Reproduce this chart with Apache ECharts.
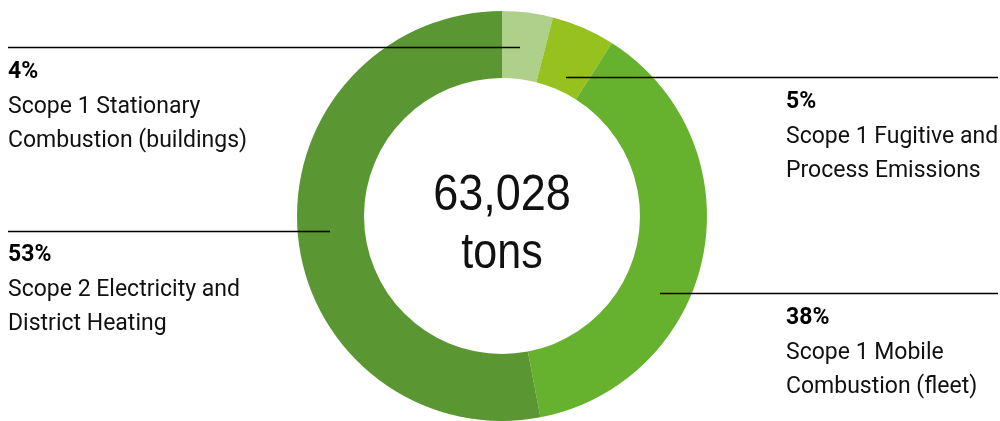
<!DOCTYPE html>
<html><head><meta charset="utf-8">
<script src="https://cdn.jsdelivr.net/npm/echarts@6/dist/echarts.min.js"></script>
<style>html,body{margin:0;padding:0;background:#fff}#c{width:1000px;height:421px}</style>
</head><body><div id="c"></div>
<script>
const categories = ['Scope 1 Stationary\nCombustion (buildings)', 'Scope 1 Fugitive and\nProcess Emissions', 'Scope 1 Mobile\nCombustion (fleet)', 'Scope 2 Electricity and\nDistrict Heating'];
const values = [4, 5, 38, 53];
const colors = ['#aed08b', '#96c11f', '#66b22e', '#5a9632'];
const totalLabel = '63,028';
const unitLabel = 'tons';

// annotation layout: [lineX1, lineX2, lineY, textX, firstBaseline]
const annot = [
  [8, 520, 47.5, 8, 79],
  [566, 998, 77.5, 786, 109],
  [660, 998, 293.5, 786, 325],
  [8, 330, 231.5, 8, 262]
];
const FONT = 'Roboto, "Noto Sans", sans-serif';
const graphics = [];
values.forEach((v, i) => {
  const a = annot[i];
  graphics.push({type:'line', z:100, shape:{x1:a[0], y1:a[2], x2:a[1], y2:a[2]}, style:{stroke:'#000', lineWidth:1.4}});
  graphics.push({type:'text', z:100, x:a[3], y:a[4]-6.5, style:{text:v+'%', font:'bold 23px '+FONT, fill:'#000', verticalAlign:'middle'}});
  const lines = categories[i].split('\n');
  lines.forEach((t, k) => {
    graphics.push({type:'text', z:100, x:a[3], y:a[4]+34.5*(k+1)-6.5, style:{text:t, font:'23px '+FONT, fill:'#111', verticalAlign:'middle'}});
  });
});
graphics.push({type:'text', z:100, x:502, y:196, scaleX:0.9, style:{text:totalLabel, font:'50px "Liberation Sans", Arial, sans-serif', fill:'#111', align:'center', verticalAlign:'middle'}});
graphics.push({type:'text', z:100, x:502, y:254, scaleX:0.86, style:{text:unitLabel, font:'50px "Liberation Sans", Arial, sans-serif', fill:'#111', align:'center', verticalAlign:'middle'}});

const chart = echarts.init(document.getElementById('c'), null, {renderer:'canvas'});
chart.setOption({
  animation:false,
  graphic: graphics,
  series:[{
    type:'pie',
    center:[502,216],
    radius:[138,205],
    startAngle:90,
    clockwise:true,
    label:{show:false},
    labelLine:{show:false},
    emphasis:{disabled:true},
    itemStyle:{borderWidth:0},
    data: values.map((v,i)=>({name:categories[i], value:v, itemStyle:{color:colors[i]}}))
  }]
});
</script></body></html>
